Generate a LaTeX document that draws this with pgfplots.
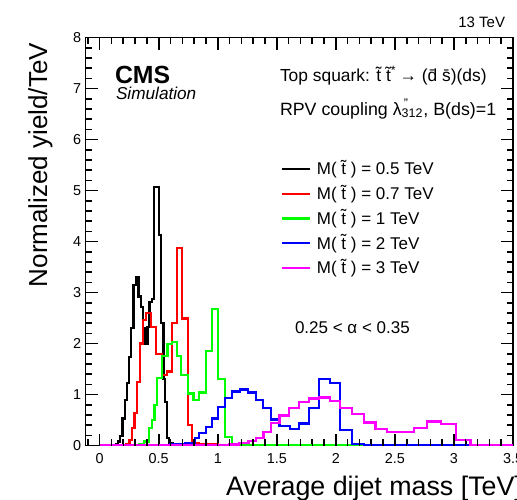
\documentclass[border=0pt]{standalone}
\usepackage{fontspec}
\setmainfont{Liberation Sans}
\usepackage{pgfplots}
\pgfplotsset{compat=1.18}

\definecolor{rootred}{RGB}{255,0,0}
\definecolor{rootgreen}{RGB}{0,255,0}
\definecolor{rootblue}{RGB}{0,0,255}
\definecolor{rootmag}{RGB}{255,0,255}

\begin{document}
\begin{tikzpicture}
\begin{axis}[
  at={(42.75pt,-222.75pt)}, anchor=south west,
  scale only axis, width=213.75pt, height=204pt,
  xmin=-0.12, xmax=3.5, ymin=0, ymax=8,
  xtick={0,0.5,1,1.5,2,2.5,3,3.5}, ytick={0,1,2,3,4,5,6,7,8},
  minor x tick num=4, minor y tick num=4,
  tick align=inside,
  major tick length=6pt, minor tick length=3.2pt,
  axis line style={line width=0.8pt},
  every tick/.append style={black, line width=0.8pt},
  /pgf/number format/assume math mode=true,
  tick label style={font=\fontsize{7.2}{8}\selectfont},
  xticklabel style={inner sep=0pt, yshift=-3.8pt},
  yticklabel style={inner sep=0pt, xshift=-2pt},
  legend cell align=left,
  legend style={at={(0.4566,0.699)}, anchor=north west, draw=none, fill=none,
    inner sep=0pt, outer sep=0pt, font=\fontsize{8.5}{10}\selectfont,
    nodes={inner sep=0pt}, row sep=3.6pt,
    /tikz/every odd column/.append style={column sep=3pt}},
  legend image code/.code={\draw[#1] (0pt,0pt) -- (14pt,0pt);},
]
\addplot[const plot, black, line width=1.1pt] coordinates {
(0,0) (0.14,0.02) (0.155,0.08) (0.175,0.18) (0.194,0.53) (0.216,0.89) (0.23,1.22)
(0.25,1.74) (0.267,2.30) (0.287,3.15) (0.306,3.31) (0.329,2.92) (0.349,2.72)
(0.366,2.30) (0.386,2.0) (0.405,2.33) (0.422,2.82) (0.442,2.88) (0.462,5.07)
(0.499,4.13) (0.52,2.4) (0.54,1.3) (0.555,0.86) (0.57,0.15) (0.59,0.05)
(0.62,0.03) (0.75,0.01) (0.85,0) (3.5,0)};
\addlegendentry{M( \~{t} ) = 0.5 TeV}
\addplot[const plot, rootred, line width=1.1pt] coordinates {
(0,0) (0.22,0.03) (0.253,0.11) (0.273,0.34) (0.295,0.63) (0.315,1.25) (0.34,2.0)
(0.366,2.46) (0.394,2.6) (0.434,2.33) (0.475,1.8) (0.527,1.38) (0.568,1.45)
(0.612,2.40) (0.657,3.87) (0.697,2.49) (0.747,0.40) (0.78,0.04) (0.84,0.02)
(1.0,0.01) (1.2,0) (3.5,0)};
\addlegendentry{M( \~{t} ) = 0.7 TeV}
\addplot[const plot, rootgreen, line width=1.1pt] coordinates {
(0,0) (0.33,0.02) (0.372,0.08) (0.42,0.34) (0.442,0.5) (0.465,0.79) (0.487,1.32)
(0.527,1.75) (0.575,1.99) (0.612,2.03) (0.654,1.75) (0.691,1.38) (0.747,1.02)
(0.795,0.89) (0.843,1.04) (0.9,1.86) (0.95,2.68) (1.002,1.30) (1.064,0.17)
(1.12,0.02) (1.2,0) (3.5,0)};
\addlegendentry{M( \~{t} ) = 1 TeV}
\addplot[const plot, rootblue, line width=1.1pt] coordinates {
(0,0) (0.6,0.02) (0.725,0.04) (0.804,0.14) (0.843,0.24) (0.9,0.37) (0.95,0.53)
(1.002,0.75) (1.064,0.93) (1.12,1.06) (1.19,1.10) (1.255,1.04) (1.322,0.89)
(1.385,0.73) (1.453,0.51) (1.522,0.38) (1.61,0.32) (1.685,0.43) (1.77,0.73)
(1.854,1.30) (1.947,1.23) (2.038,0.30) (2.137,0.03) (2.237,0.01) (2.4,0) (3.5,0)};
\addlegendentry{M( \~{t} ) = 2 TeV}
\addplot[const plot, rootmag, line width=1.1pt] coordinates {
(0,0) (0.9,0.01) (1.1,0.02) (1.18,0.05) (1.26,0.09) (1.322,0.15) (1.388,0.26)
(1.45,0.44) (1.522,0.59) (1.605,0.73) (1.685,0.86) (1.77,0.92) (1.854,0.94)
(1.947,0.88) (2.038,0.73) (2.137,0.62) (2.237,0.45) (2.335,0.33) (2.434,0.27)
(2.547,0.26) (2.66,0.34) (2.773,0.47) (2.89,0.42) (3.015,0.11) (3.14,0.01)
(3.27,0) (3.5,0)};
\addlegendentry{M( \~{t} ) = 3 TeV}
\end{axis}
\begin{scope}[x=0.5pt, y=-0.5pt, every node/.style={inner sep=0pt, outer sep=0pt}]
% frame ticks (px coordinates: x = 99.67 + 118.09*v, y = 445.5 - 51*v)
\foreach \v in {-1,1,2,3,4,6,7,8,9,11,12,13,14,16,17,18,19,21,22,23,24,26,27,28,29,31,32,33,34}{
  \pgfmathsetmacro\px{99.67+11.809*\v}
  \draw[black, line width=0.7pt] (\px,445.5) -- (\px,439.1);
  \draw[black, line width=0.7pt] (\px,37.5) -- (\px,43.9);}
\foreach \v in {0,5,10,15,20,25,30}{
  \pgfmathsetmacro\px{99.67+11.809*\v}
  \draw[black, line width=0.7pt] (\px,445.5) -- (\px,433.5);
  \draw[black, line width=0.7pt] (\px,37.5) -- (\px,49.5);}
\foreach \v in {1,2,3,4,6,7,8,9,11,12,13,14,16,17,18,19,21,22,23,24,26,27,28,29,31,32,33,34,36,37,38,39}{
  \pgfmathsetmacro\py{445.5-10.2*\v}
  \draw[black, line width=0.7pt] (85.5,\py) -- (91.9,\py);
  \draw[black, line width=0.7pt] (513,\py) -- (506.6,\py);}
\foreach \v in {5,10,15,20,25,30,35}{
  \pgfmathsetmacro\py{445.5-10.2*\v}
  \draw[black, line width=0.7pt] (85.5,\py) -- (97.5,\py);
  \draw[black, line width=0.7pt] (513,\py) -- (501,\py);}
\node[anchor=base east, font=\fontsize{7.5}{9}\selectfont] at (505,27.3) {13 TeV};
\node[anchor=base west, font=\bfseries\fontsize{12.4}{14}\selectfont] at (115,83.3) {CMS};
\node[anchor=base west, font=\itshape\fontsize{8.6}{10}\selectfont] at (116,99) {Simulation};
\node[anchor=base west, font=\fontsize{8.7}{11}\selectfont] at (280,81.7)
  {Top squark: \~{t} \~{t}\textsuperscript{*}\,→ (\={d} \={s})(ds)};
\node[anchor=base west, font=\fontsize{8.9}{11}\selectfont] at (280,115)
  {RPV coupling λ\rlap{\textsuperscript{\,''}}\textsubscript{312}, B(ds)=1};
\node[anchor=base west, font=\fontsize{8.5}{10}\selectfont] at (295,333) {0.25 < α < 0.35};
\node[anchor=base west, font=\fontsize{13.4}{15}\selectfont] at (226,495) {Average dijet mass [TeV]};
\node[anchor=base east, rotate=90, font=\fontsize{13}{15}\selectfont] at (47,43) {Normalized yield/TeV};
\end{scope}
\pgfresetboundingbox
\useasboundingbox (0,0) rectangle (258.5pt,-249.5pt);
\end{tikzpicture}
\end{document}
